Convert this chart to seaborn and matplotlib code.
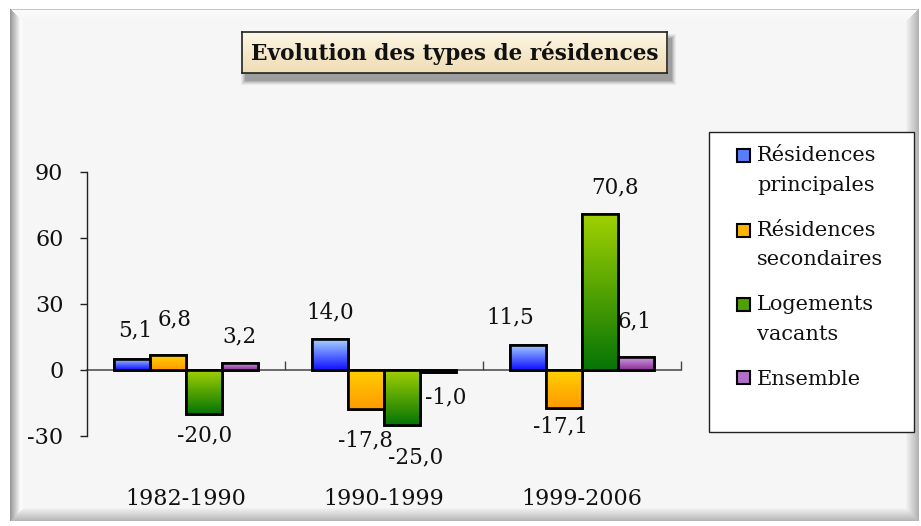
import numpy as np
import pandas as pd
import matplotlib
matplotlib.use("Agg")
import matplotlib.pyplot as plt
import seaborn as sns
from matplotlib.patches import Rectangle
from matplotlib.colors import LinearSegmentedColormap
from matplotlib.legend_handler import HandlerPatch

# ---------------- data ----------------
periods = ["1982-1990", "1990-1999", "1999-2006"]
series = ["Résidences\nprincipales", "Résidences\nsecondaires", "Logements\nvacants", "Ensemble"]
res_principales = [5.1, 14.0, 11.5]
res_secondaires = [6.8, -17.8, -17.1]
logements_vacants = [-20.0, -25.0, 70.8]
ensemble = [3.2, -1.0, 6.1]
yticks = [-30, 0, 30, 60, 90]
title = "Evolution des types de résidences"

values = [res_principales, res_secondaires, logements_vacants, ensemble]
df = pd.DataFrame({
    "period": [p for s in series for p in periods],
    "series": [s for s in series for p in periods],
    "value": [v for vals in values for v in vals],
})

# ---------------- styles ----------------
W, H = 921, 526
grad_cols = [("#a6d2ff", "#1010ff"), ("#ffd000", "#ff9a00"),
             ("#9fd000", "#067506"), ("#d4a4ee", "#8a3092")]
mid_cols = ["#5a7dff", "#ffb400", "#4fa003", "#b070c8"]
# label offsets in pixels (dx, dy) relative to bar end, per series then period
label_off = [[(3, 28), (0, 27), (-18, 27)],
             [(7, 36), (-1, -31), (-4, -19)],
             [(1, -21), (14, -32), (15, 27)],
             [(0, 27), (8, -25), (-1, 35)]]

sns.set_theme(style="white")
plt.rcParams["font.family"] = ["DejaVu Serif"]
fig = plt.figure(figsize=(W / 100, H / 100), dpi=100)
fig.patch.set_facecolor("white")

# ---------------- bevelled background ----------------
bg = fig.add_axes([0, 0, 1, 1], zorder=-10)
bg.axis("off")
img = np.ones((H, W, 3))
x0, x1, y0, y1 = 10, 918, 9, 521
inner = 0.965
img[y0:y1, x0:x1] = inner
n = 14
for i in range(n):
    t = i / (n - 1)
    img[y0 + i, x0 + i:x1 - i] = 0.985 + (inner - 0.985) * t if i > 0 else 0.78
    img[y1 - 1 - i, x0 + i:x1 - i] = 0.72 + (inner - 0.72) * t
    img[y0 + i:y1 - i, x0 + i] = 0.60 + (0.99 - 0.60) * min(1, t * 1.3) if t < 0.77 else 0.99 + (inner - 0.99) * (t - 0.77) / 0.23
    img[y0 + i:y1 - i, x1 - 1 - i] = 0.70 + (inner - 0.70) * t
bg.imshow(img, extent=[0, 1, 0, 1], aspect="auto", interpolation="nearest")
bg.set_xlim(0, 1)
bg.set_ylim(0, 1)

# ---------------- main axes ----------------
ax = fig.add_axes([87 / W, 1 - 436 / H, (681 - 87) / W, (436 - 172) / H])
ax.set_facecolor("none")
sns.barplot(data=df, x="period", y="value", hue="series", hue_order=series,
            order=periods, width=0.727, palette=mid_cols, saturation=1,
            edgecolor="black", linewidth=1.9, legend=False, ax=ax, zorder=3)

ax.set_ylim(-30, 90)
ax.set_xlim(-0.5, 2.5)

for si, cont in enumerate(ax.containers):
    top, bot = grad_cols[si]
    cmap = LinearSegmentedColormap.from_list(f"g{si}", [top, bot])
    for pi, bar in enumerate(cont):
        bx, by = bar.get_x(), bar.get_y()
        bw, bh = bar.get_width(), bar.get_height()
        ylo, yhi = min(by, by + bh), max(by, by + bh)
        im = ax.imshow(np.linspace(0, 1, 64).reshape(-1, 1), cmap=cmap,
                       extent=[bx, bx + bw, ylo, yhi], origin="upper",
                       aspect="auto", interpolation="bicubic", zorder=4)
        im.set_clip_path(bar)
        ax.add_patch(Rectangle((bx, by), bw, bh, fill=False, ec="black",
                               lw=1.9, zorder=5))
        v = values[si][pi]
        dx, dy = label_off[si][pi]
        ax.annotate(f"{v:.1f}".replace(".", ","), xy=(bx + bw / 2, by + bh),
                    xytext=(dx, dy), textcoords="offset pixels",
                    ha="center", va="center", fontsize=15.5, color="#111111",
                    zorder=6)

ax.set_xlim(-0.5, 2.5)
ax.set_ylim(-30, 90)
ax.set_xlabel("")
ax.set_ylabel("")
ax.set_yticks(yticks)
ax.set_yticklabels([str(t) for t in yticks])
ax.set_xticks(range(len(periods)))
ax.set_xticklabels(periods)
ax.set_xticks([0.5, 1.5, 2.5], minor=True)

for s in ["top", "right"]:
    ax.spines[s].set_visible(False)
ax.spines["left"].set_color("#222222")
ax.spines["left"].set_linewidth(1.0)
ax.spines["bottom"].set_position(("data", 0))
ax.spines["bottom"].set_color("#444444")
ax.spines["bottom"].set_linewidth(1.1)
ax.spines["bottom"].set_zorder(2)

ax.tick_params(axis="y", direction="out", length=5, width=1, color="#222222",
               pad=12, labelsize=16, labelcolor="#111111", left=True)
ax.tick_params(axis="x", which="major", length=0, pad=85, labelsize=16,
               labelcolor="#111111", bottom=True)
ax.tick_params(axis="x", which="minor", direction="in", length=6.5, width=1,
               color="#444444", bottom=True)


# ---------------- legend ----------------
class TopHandler(HandlerPatch):
    """Square aligned with the first line of a multi-line label."""
    def __init__(self, shift, **kw):
        super().__init__(**kw)
        self.shift = shift

    def create_artists(self, legend, orig_handle, xdescent, ydescent, width,
                       height, fontsize, trans):
        p = Rectangle((-xdescent, -ydescent + self.shift), width, height)
        self.update_prop(p, orig_handle, legend)
        p.set_transform(trans)
        return [p]


fig.add_artist(Rectangle((709 / W, 1 - 432 / H), 205 / W, 300 / H,
                         transform=fig.transFigure, fc="white", ec="#222222",
                         lw=1.0, zorder=1))
leg_fs = 15
leg_ls = 1.69
line_pt = leg_fs * 0.853 * leg_ls
handles = [Rectangle((0, 0), 1, 1, fc=c, ec="black", lw=1.5) for c in mid_cols]
hmap = {h: TopHandler(shift=(lab.count("\n")) * line_pt / 2)
        for h, lab in zip(handles, series)}
leg = fig.legend(handles, series, loc="upper left", handler_map=hmap,
                 bbox_to_anchor=(727 / W, 1 - 136 / H), frameon=False,
                 fontsize=leg_fs, handlelength=0.6, handleheight=0.6,
                 handletextpad=0.35, labelspacing=1.25, borderpad=0)
leg.set_zorder(2)
for t in leg.get_texts():
    t.set_linespacing(leg_ls)
    t.set_color("#111111")

# ---------------- title box ----------------
tx0, ty0, tw, th = 242, 32, 425, 41
for k, a in enumerate([0.05, 0.06, 0.08, 0.10, 0.12]):
    g = 5 - k
    fig.add_artist(Rectangle(((tx0 + 4 - g) / W, 1 - (ty0 + th + 7 + g) / H),
                             (tw + 2 * g) / W, (th + 2 * g) / H,
                             transform=fig.transFigure, fc="black", ec="none",
                             alpha=a, zorder=1))
tax = fig.add_axes([tx0 / W, 1 - (ty0 + th) / H, tw / W, th / H], zorder=5)
tcmap = LinearSegmentedColormap.from_list("tb", ["#fdf7e6", "#efdcb2"])
tax.imshow(np.linspace(0, 1, 64).reshape(-1, 1), cmap=tcmap, aspect="auto",
           extent=[0, 1, 0, 1], origin="upper")
tax.set_xticks([])
tax.set_yticks([])
for s in tax.spines.values():
    s.set_color("#222222")
    s.set_linewidth(1.2)
    s.set_visible(True)
tax.text(0.5, 0.47, title, transform=tax.transAxes, ha="center", va="center",
         fontsize=15.6, fontweight="bold", color="#111111")

fig.savefig("out.png", dpi=100, facecolor=fig.get_facecolor())
